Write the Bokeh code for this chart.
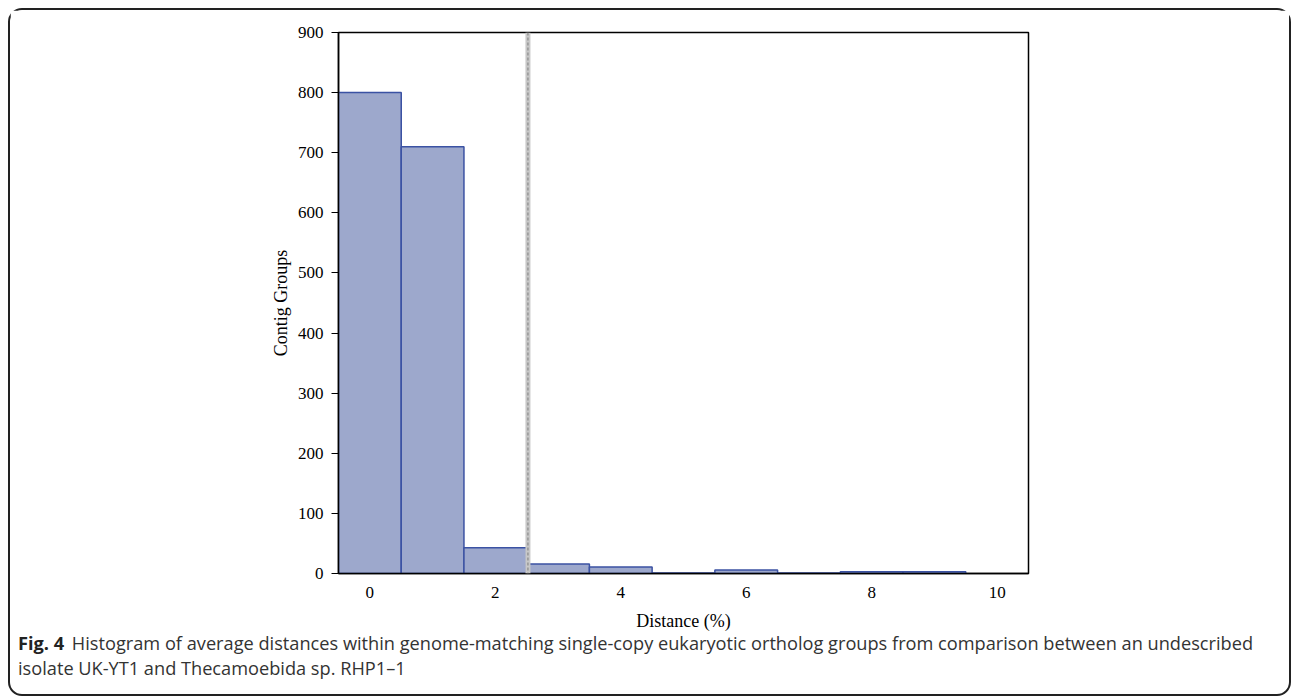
from bokeh.plotting import figure
from bokeh.models import Span, Range1d, FixedTicker, Div
from bokeh.layouts import column
from bokeh.embed import file_html
from bokeh.resources import INLINE

# Data
bin_centers = [0, 1, 2, 3, 4, 5, 6, 7, 8, 9]
counts = [800, 710, 43, 16, 11, 1, 6, 1, 3, 3]
x_ticks = [0, 2, 4, 6, 8, 10]
y_ticks = [0, 100, 200, 300, 400, 500, 600, 700, 800, 900]
threshold = 2.52
caption_bold = "Fig. 4"
caption_line1 = "Histogram of average distances within genome-matching single-copy eukaryotic ortholog groups from comparison between an undescribed"
caption_line2 = "isolate UK-YT1 and Thecamoebida sp. RHP1\u20131"

W = 1279
p = figure(width=W, height=625, output_backend="svg", toolbar_location=None,
           x_range=Range1d(-0.5, 10.5), y_range=Range1d(0, 900),
           min_border_left=328, min_border_right=261, min_border_top=22,
           min_border_bottom=62)

p.vbar(x=bin_centers, top=counts, width=1.0, bottom=0,
       fill_color="#9DA8CC", line_color="#3B52A3", line_width=1.5)

p.add_layout(Span(location=threshold, dimension="height", line_color="#c8c8c8", line_width=5))
p.add_layout(Span(location=threshold, dimension="height", line_color="#8a8a8a", line_width=1.2, line_dash="3 2"))

p.grid.visible = False
p.outline_line_color = "black"
p.outline_line_width = 1.5

serif = "Liberation Serif"
p.xaxis.ticker = FixedTicker(ticks=x_ticks)
p.yaxis.ticker = FixedTicker(ticks=y_ticks)
p.xaxis.minor_tick_line_color = None
p.yaxis.minor_tick_line_color = None
p.xaxis.major_tick_out = 0
p.xaxis.major_tick_in = 0
p.xaxis.major_label_standoff = 13
p.yaxis.major_tick_out = 7
p.yaxis.major_tick_in = 0
p.yaxis.major_label_standoff = 8
for ax in (p.xaxis, p.yaxis):
    ax.axis_line_color = "black"
    ax.axis_line_width = 1.5
    ax.major_tick_line_color = "black"
    ax.major_label_text_font = serif
    ax.major_label_text_font_size = "17px"
    ax.major_label_text_color = "black"
    ax.axis_label_text_font = serif
    ax.axis_label_text_font_size = "18px"
    ax.axis_label_text_font_style = "normal"
    ax.axis_label_text_color = "black"
p.xaxis.major_tick_line_color = None
p.xaxis.axis_label = "Distance (%)"
p.yaxis.axis_label = "Contig Groups"
p.xaxis.axis_label_standoff = 10
p.yaxis.axis_label_standoff = 4

cap_html = (
    '<div style="margin:6px 0 0 8px; font-family:\'Open Sans\', sans-serif; '
    'font-size:18.2px; line-height:25px; color:#333333; white-space:nowrap;">'
    '<b style="color:#222222; margin-right:3px;">' + caption_bold + '</b> '
    + caption_line1 + '<br>' + caption_line2 + '</div>'
)
cap = Div(text=cap_html, width=W, height=69, margin=(-10, 0, 0, 0))

layout = column(p, cap, spacing=0,
                styles={"margin-left": "8px", "margin-top": "8px",
                        "border": "2px solid #222", "border-radius": "14px"})

open("out.html", "w").write(file_html(layout, INLINE))
